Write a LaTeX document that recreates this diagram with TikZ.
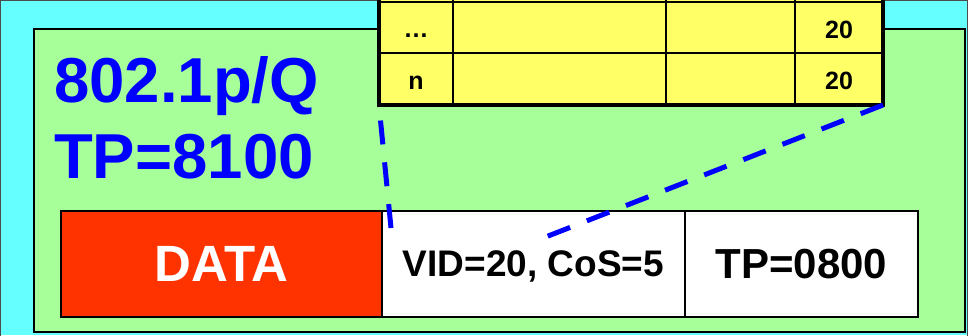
\documentclass[tikz,border=0pt]{standalone}
\usepackage{fontspec}
\setmainfont{Liberation Sans}
\definecolor{bgcyan}{HTML}{66FFFF}
\definecolor{frgreen}{HTML}{A6FF99}
\definecolor{tyellow}{HTML}{FFFF66}
\definecolor{datared}{HTML}{FF3300}
\definecolor{ptrblue}{HTML}{0000FF}
\tikzset{
  field/.style={draw=black, line width=1.5pt, rectangle, inner sep=0pt, outer sep=0pt,
    minimum height=106pt, text depth=0pt, font=\bfseries},
  cellline/.style={draw=black, line width=1.5pt},
  celltext/.style={font=\fontsize{25}{25}\selectfont\bfseries, anchor=base, inner sep=0pt},
  bigblue/.style={font=\fontsize{63.5}{63.5}\selectfont\bfseries, text=ptrblue, anchor=base west, inner sep=0pt},
  ptr/.style={draw=ptrblue, line width=5pt, dash pattern=on 24pt off 18pt}
}
\begin{document}
\begin{tikzpicture}[x=1pt,y=-1pt]
  \useasboundingbox (0,0) rectangle (968,335);
  \begin{scope}
    \clip (0,0) rectangle (968,335);
    % outer background
    \fill[bgcyan] (0,0) rectangle (968,335);
    \draw[gray!60!black, line width=1pt] (0.5,340) -- (0.5,0.5) -- (967.5,0.5) -- (967.5,340);
    % frame body
    \node[draw=black, line width=1.5pt, fill=frgreen, rectangle, inner sep=0pt, outer sep=0pt,
      minimum width=931pt, minimum height=303pt, anchor=north west] (frame) at (34,29) {};
    % header lines
    \node[bigblue] (tag) at (54,102) {802.1p/Q};
    \node[bigblue] (tpouter) at (54,178) {TP=8100};
    % frame fields
    \node[field, fill=datared, minimum width=321pt, text=white,
      font=\fontsize{51}{51}\selectfont\bfseries, anchor=north west] (data) at (61,211) {DATA};
    \node[field, fill=white, minimum width=303pt,
      font=\fontsize{37}{37}\selectfont\bfseries, anchor=north west] (vid) at (382,211) {VID=20, CoS=5};
    \node[field, fill=white, minimum width=233pt,
      font=\fontsize{42}{42}\selectfont\bfseries, anchor=north west] (tp) at (685,211) {TP=0800};
    % mapping table
    \node[fill=tyellow, rectangle, inner sep=0pt, outer sep=0pt, minimum width=504pt,
      minimum height=165pt, anchor=south west] (tbl) at (379,105) {};
    \foreach \cx in {453,666,795} \draw[cellline] (\cx,-60) -- (\cx,105);
    \foreach \ry in {2,53} \draw[cellline] (379,\ry) -- (883,\ry);
    \draw[black, line width=4.5pt] (tbl.north west) -- (tbl.south west) -- (tbl.south east) -- (tbl.north east);
    \node[celltext] (r1a) at (416,37) {\dots};
    \node[celltext] (r1d) at (839,38) {20};
    \node[celltext] (r2a) at (416,89) {n};
    \node[celltext] (r2d) at (839,89) {20};
    % pointers from the table to the VID field
    \coordinate (p1) at (391,228);
    \coordinate (p2) at (543,238);
    \draw[ptr] (p1) -- (tbl.south west);
    \draw[ptr] (tbl.south east) -- (p2);
  \end{scope}
\end{tikzpicture}
\end{document}
